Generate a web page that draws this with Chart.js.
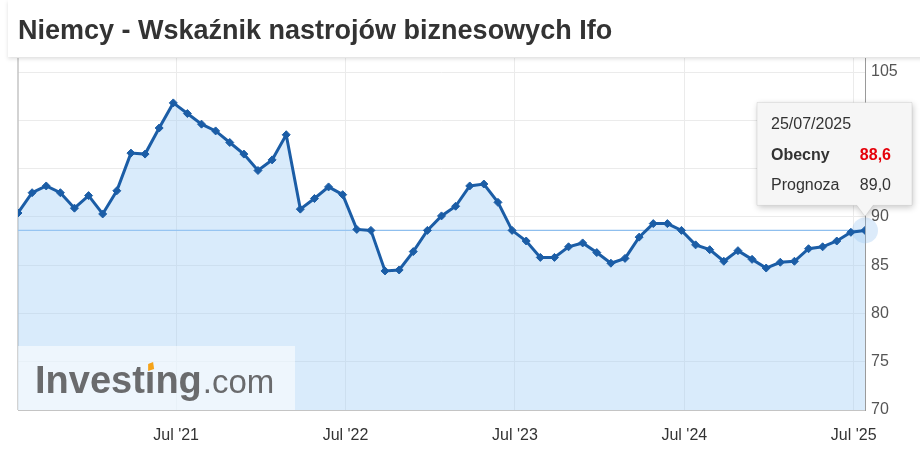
<!DOCTYPE html>
<html>
<head>
<meta charset="utf-8">
<script src="https://cdn.jsdelivr.net/npm/chart.js@4.4.1/dist/chart.umd.min.js"></script>
<style>
  html, body { margin: 0; padding: 0; background: #fff; }
  #wrap { position: relative; width: 920px; height: 449px; overflow: hidden; }
  #head {
    position: absolute; left: 8px; right: -10px; top: 0; height: 57px; z-index: 2;
    background: #fff; box-shadow: 0 2px 4px rgba(0,0,0,0.13);
  }
  #title {
    position: absolute; left: 10px; top: 15px; line-height: 27px;
    font: bold 27px "Liberation Sans", Arial, sans-serif; color: #333;
    white-space: nowrap;
  }
  #chart-box { position: absolute; left: 0; top: 0; width: 920px; height: 449px; z-index: 1; }
</style>
</head>
<body>
<div id="wrap">
  <div id="head"><div id="title">Niemcy - Wskaźnik nastrojów biznesowych Ifo</div></div>
  <div id="chart-box"><canvas id="chart-1"></canvas></div>
</div>
<script>
// monthly Ifo readings, Jul 2020 .. Jul 2025
const months = [
  "2020-07", "2020-08", "2020-09", "2020-10", "2020-11", "2020-12",
  "2021-01", "2021-02", "2021-03", "2021-04", "2021-05", "2021-06",
  "2021-07", "2021-08", "2021-09", "2021-10", "2021-11", "2021-12",
  "2022-01", "2022-02", "2022-03", "2022-04", "2022-05", "2022-06",
  "2022-07", "2022-08", "2022-09", "2022-10", "2022-11", "2022-12",
  "2023-01", "2023-02", "2023-03", "2023-04", "2023-05", "2023-06",
  "2023-07", "2023-08", "2023-09", "2023-10", "2023-11", "2023-12",
  "2024-01", "2024-02", "2024-03", "2024-04", "2024-05", "2024-06",
  "2024-07", "2024-08", "2024-09", "2024-10", "2024-11", "2024-12",
  "2025-01", "2025-02", "2025-03", "2025-04", "2025-05", "2025-06",
  "2025-07"
];
const ifoValues = [
  90.4, 92.5, 93.2, 92.5, 90.9, 92.2,
  90.3, 92.7, 96.6, 96.5, 99.2, 101.8,
  100.7, 99.6, 98.9, 97.7, 96.5, 94.8,
  95.9, 98.5, 90.8, 91.9, 93.1, 92.3,
  88.7, 88.6, 84.4, 84.5, 86.4, 88.6,
  90.1, 91.1, 93.2, 93.4, 91.5, 88.6,
  87.5, 85.8, 85.8, 86.9, 87.3, 86.3,
  85.2, 85.7, 87.9, 89.3, 89.3, 88.6,
  87.1, 86.6, 85.4, 86.5, 85.6, 84.7,
  85.3, 85.4, 86.7, 86.9, 87.5, 88.4,
  88.6
];
const lastRelease = "25/07/2025";
const forecastValue = 89.0;

const yTicks = [70, 75, 80, 85, 90, 95, 100, 105];
const xTickMonths = ["2021-07", "2022-07", "2023-07", "2024-07", "2025-07"];
const xTickLabels = ["Jul '21", "Jul '22", "Jul '23", "Jul '24", "Jul '25"];

// readings come out on the 25th, ticks sit on the 1st of the month
const releaseShift = 0.8;

const FONT = '"Liberation Sans", Arial, sans-serif';
const LINE = "#1b5da6";
const fmt = (v) => v.toFixed(1).replace(".", ",");

const extras = {
  id: "extras",
  beforeDatasetsDraw(chart) {
    const { ctx, chartArea: a, scales } = chart;
    const last = ifoValues[ifoValues.length - 1];
    const y = scales.y.getPixelForValue(last);
    ctx.save();
    // left frame line
    ctx.strokeStyle = "#c4c4c4";
    ctx.lineWidth = 1.5;
    ctx.beginPath();
    ctx.moveTo(a.left, a.top);
    ctx.lineTo(a.left, a.bottom);
    ctx.stroke();
    // current value line
    ctx.strokeStyle = "#8fbfee";
    ctx.lineWidth = 1.2;
    ctx.beginPath();
    ctx.moveTo(a.left, y);
    ctx.lineTo(a.right, y);
    ctx.stroke();
    // halo of the active point
    const p = chart.getDatasetMeta(0).data[ifoValues.length - 1];
    ctx.fillStyle = "rgba(140,190,240,0.3)";
    ctx.beginPath();
    ctx.arc(p.x, p.y, 13, 0, Math.PI * 2);
    ctx.fill();
    ctx.restore();
  },
  afterDatasetsDraw(chart) {
    const { ctx, chartArea: a } = chart;
    ctx.save();
    // watermark
    ctx.fillStyle = "rgba(255,255,255,0.55)";
    ctx.fillRect(a.left, a.bottom - 64, 277, 64);
    const bx = 35, by = a.bottom - 17;
    ctx.fillStyle = "#6a6b6d";
    ctx.textBaseline = "alphabetic";
    ctx.font = "bold 38px " + FONT;
    let x = bx;
    ctx.fillText("Invest", x, by);
    x += ctx.measureText("Invest").width;
    const iw = ctx.measureText("\u0131").width;
    ctx.fillText("\u0131", x, by);
    const dotX = x + iw / 2;
    x += iw;
    ctx.fillText("ng", x, by);
    x += ctx.measureText("ng").width;
    ctx.font = "33px " + FONT;
    ctx.fillText(".com", x + 1, by);
    ctx.fillStyle = "#f5a31a";
    ctx.beginPath();
    ctx.moveTo(dotX - 2, by - 22);
    ctx.lineTo(dotX + 4, by - 24);
    ctx.lineTo(dotX + 3, by - 31);
    ctx.lineTo(dotX - 2, by - 29);
    ctx.closePath();
    ctx.fill();
    ctx.restore();
  },
  afterDraw(chart) {
    const { ctx } = chart;
    const p = chart.getDatasetMeta(0).data[ifoValues.length - 1];
    const L = p.x - 108, R = p.x + 47, T = p.y - 128, B = p.y - 25;
    ctx.save();
    ctx.shadowColor = "rgba(0,0,0,0.22)";
    ctx.shadowBlur = 6;
    ctx.shadowOffsetX = 1;
    ctx.shadowOffsetY = 2;
    ctx.fillStyle = "#f6f6f6";
    ctx.beginPath();
    ctx.moveTo(L, T);
    ctx.lineTo(R, T);
    ctx.lineTo(R, B);
    ctx.lineTo(p.x + 8, B);
    ctx.lineTo(p.x, p.y - 14);
    ctx.lineTo(p.x - 8, B);
    ctx.lineTo(L, B);
    ctx.closePath();
    ctx.fill();
    ctx.shadowColor = "transparent";
    ctx.strokeStyle = "rgba(0,0,0,0.08)";
    ctx.lineWidth = 1;
    ctx.stroke();

    ctx.textBaseline = "middle";
    ctx.fillStyle = "#333";
    ctx.font = "16px " + FONT;
    ctx.textAlign = "left";
    ctx.fillText(lastRelease, L + 14, T + 22);
    ctx.font = "bold 16px " + FONT;
    ctx.fillText("Obecny", L + 14, T + 53);
    ctx.font = "16px " + FONT;
    ctx.fillText("Prognoza", L + 14, T + 83);
    ctx.textAlign = "right";
    ctx.font = "bold 16px " + FONT;
    ctx.fillStyle = "#e5000a";
    ctx.fillText(fmt(ifoValues[ifoValues.length - 1]), R - 21, T + 53);
    ctx.font = "16px " + FONT;
    ctx.fillStyle = "#333";
    ctx.fillText(fmt(forecastValue), R - 21, T + 83);
    ctx.restore();
  }
};

const ctx1 = document.getElementById("chart-1").getContext("2d");
const myChart = new Chart(ctx1, {
  type: "line",
  data: {
    datasets: [
      {
        label: "Ifo",
        data: ifoValues.map((v, i) => ({ x: i, y: v })),
        borderColor: LINE,
        borderWidth: 3,
        backgroundColor: "rgba(160,205,245,0.4)",
        fill: "start",
        tension: 0,
        pointStyle: "rectRot",
        pointRadius: 4,
        pointBorderWidth: 1,
        pointBackgroundColor: LINE,
        pointBorderColor: LINE,
      },
    ],
  },
  options: {
    responsive: true,
    maintainAspectRatio: false,
    animation: false,
    layout: { padding: { top: 58, left: 18, right: 0, bottom: 0 } },
    plugins: {
      legend: { display: false },
      tooltip: { enabled: false },
    },
    scales: {
      x: {
        type: "linear",
        min: 0,
        max: months.length - 1,
        afterBuildTicks: (s) => {
          s.ticks = xTickMonths.map((m) => ({ value: months.indexOf(m) - releaseShift }));
        },
        afterFit: (s) => { s.height = 39; },
        grid: { color: "#ebebeb", drawTicks: false },
        border: { color: "#c4c4c4" },
        ticks: {
          autoSkip: false,
          maxRotation: 0,
          padding: 16,
          color: "#333",
          font: { family: FONT, size: 16 },
          callback: (v, i) => xTickLabels[i],
        },
      },
      y: {
        position: "right",
        min: 70,
        max: 106.45,
        afterBuildTicks: (s) => {
          s.ticks = yTicks.map((v) => ({ value: v }));
        },
        afterFit: (s) => { s.width = 55; },
        grid: { color: "#ebebeb", drawTicks: false },
        border: { color: "#9a9a9a" },
        ticks: {
          padding: 6,
          color: "#555",
          font: { family: FONT, size: 16 },
        },
      },
    },
  },
  plugins: [extras],
});
</script>
</body>
</html>
